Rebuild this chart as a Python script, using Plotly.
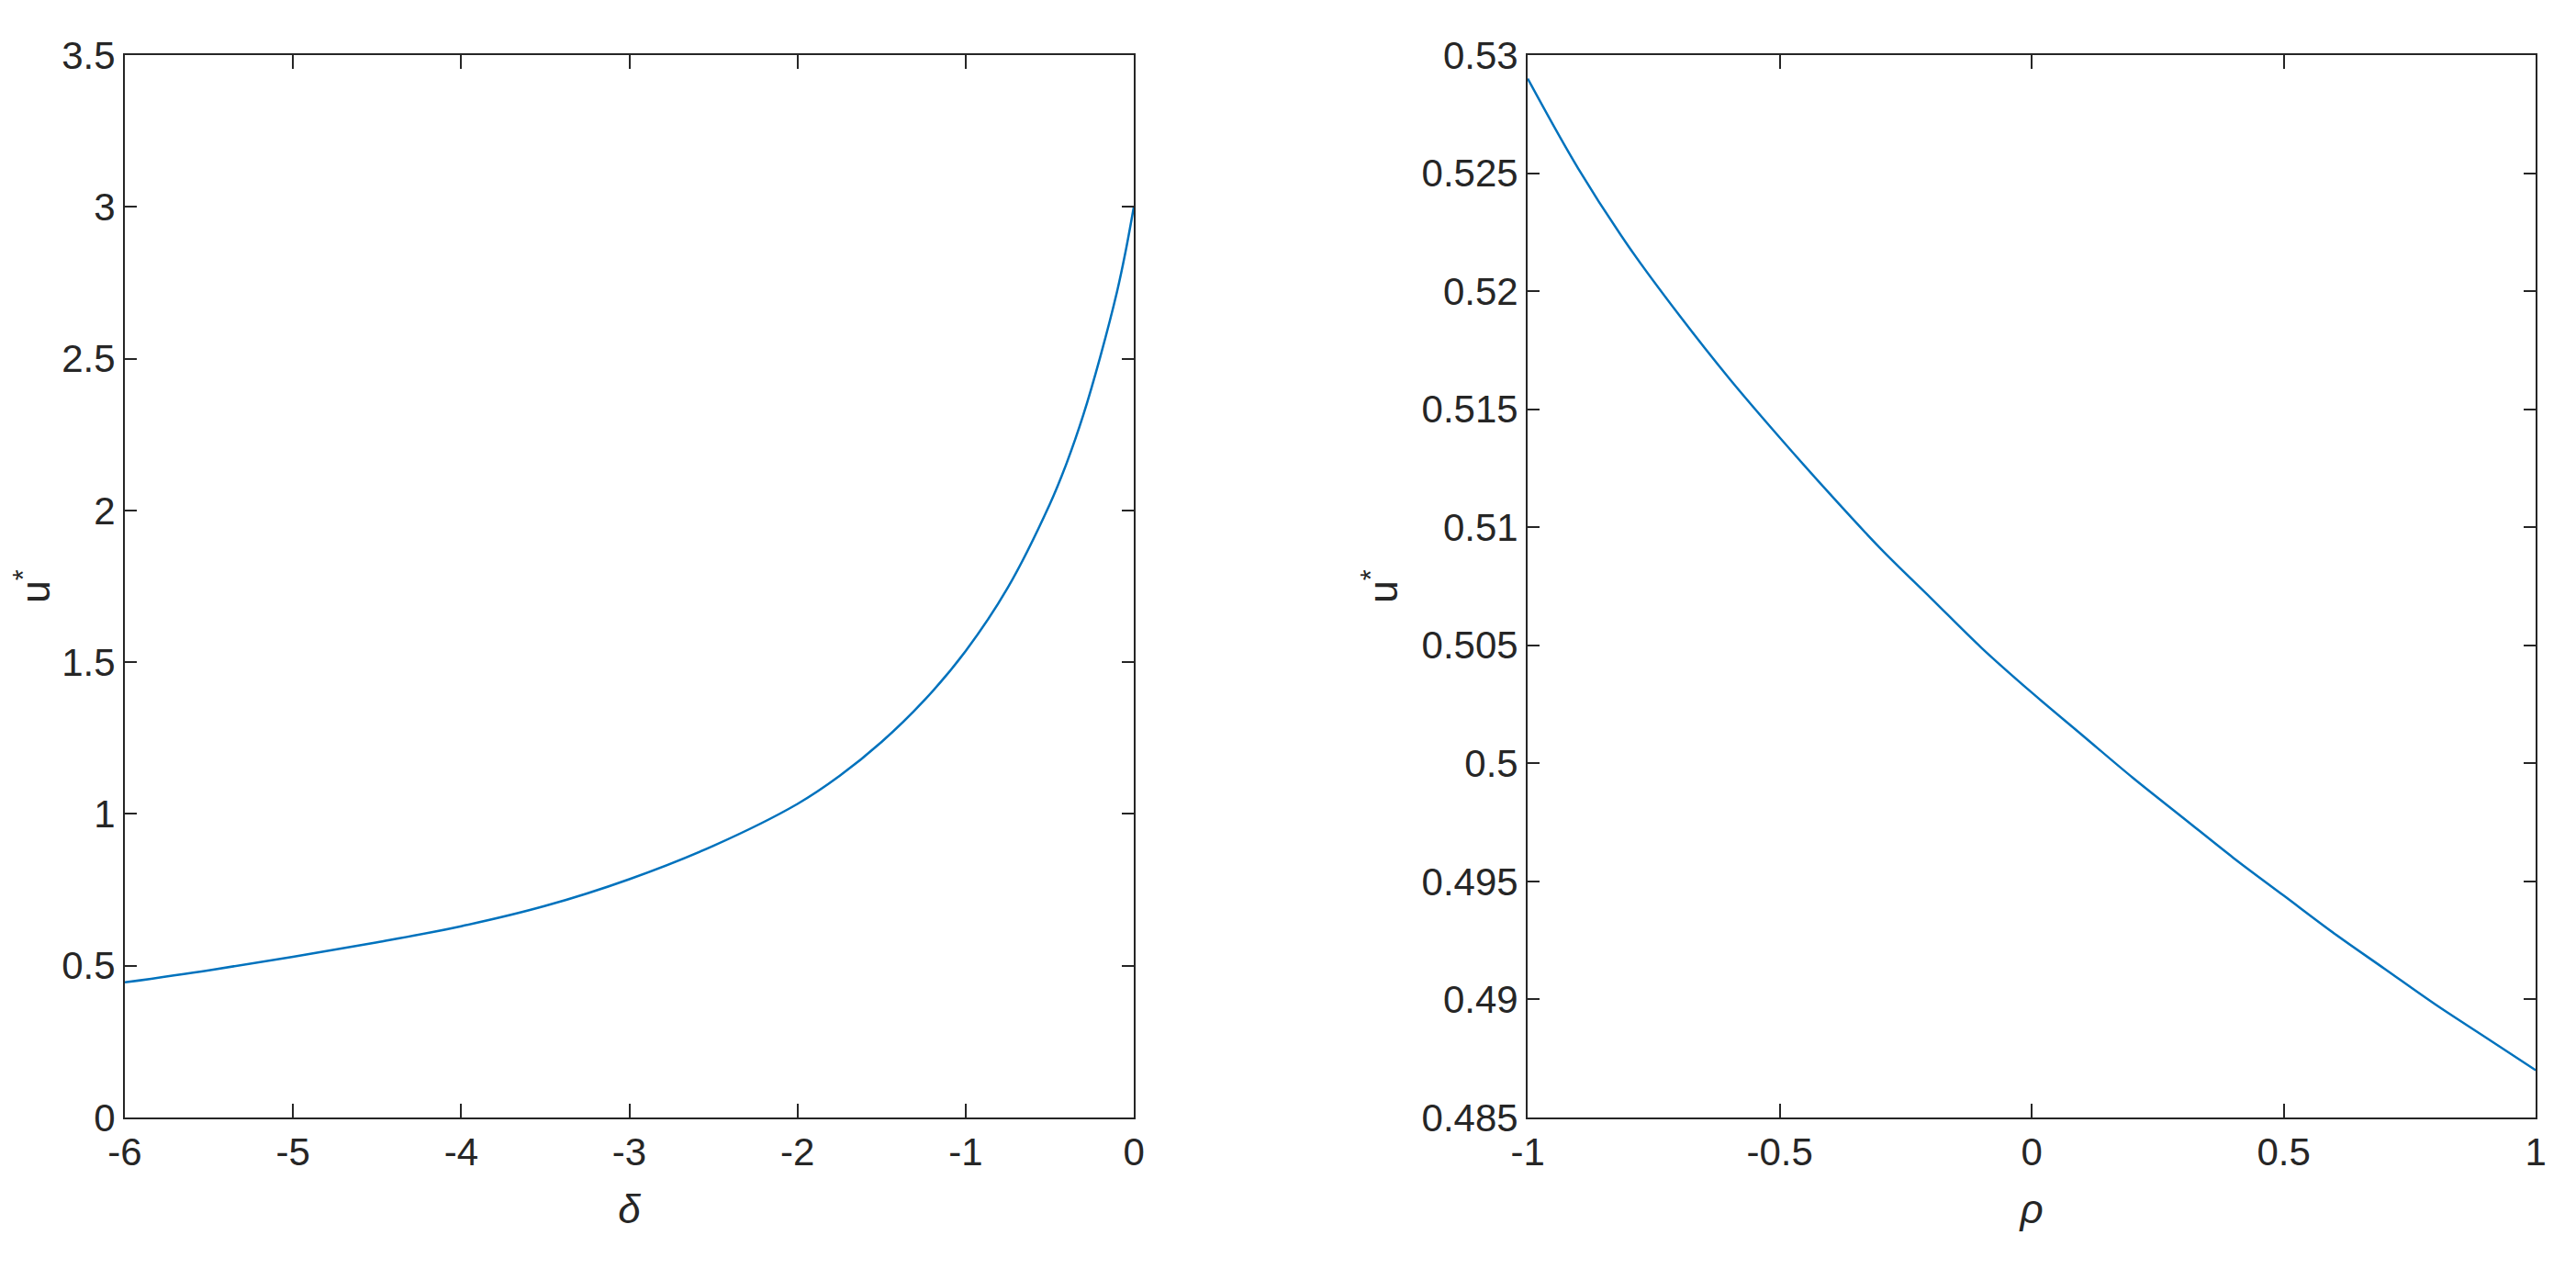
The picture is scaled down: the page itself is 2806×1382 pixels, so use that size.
import plotly.graph_objects as go
from plotly.subplots import make_subplots

# Left panel: u* against delta
DELTA = [-6, -5.5, -5, -4.5, -4, -3.5, -3, -2.5, -2, -1.75, -1.5, -1.25, -1,
         -0.75, -0.5, -0.4, -0.3, -0.2, -0.1, -0.05, 0]
U_DELTA = [0.445, 0.485, 0.529, 0.577, 0.630, 0.697, 0.785, 0.895, 1.033, 1.125,
           1.237, 1.372, 1.537, 1.745, 2.02, 2.155, 2.315, 2.505, 2.72, 2.85, 3.0]

# Right panel: u* against rho
RHO = [-1, -0.9, -0.8, -0.7, -0.6, -0.5, -0.4, -0.3, -0.2, -0.1, 0,
       0.1, 0.2, 0.3, 0.4, 0.5, 0.6, 0.7, 0.8, 0.9, 1]
U_RHO = [0.5290, 0.5252, 0.5219, 0.5190, 0.5163, 0.5138, 0.5114, 0.5091, 0.5070,
         0.5049, 0.5030, 0.5012, 0.4994, 0.4977, 0.4960, 0.4944, 0.4928, 0.4913,
         0.4898, 0.4884, 0.4870]

LEFT_XTICKS = [-6, -5, -4, -3, -2, -1, 0]
LEFT_XLABELS = ["-6", "-5", "-4", "-3", "-2", "-1", "0"]
LEFT_YTICKS = [0, 0.5, 1, 1.5, 2, 2.5, 3, 3.5]
LEFT_YLABELS = ["0", "0.5", "1", "1.5", "2", "2.5", "3", "3.5"]
RIGHT_XTICKS = [-1, -0.5, 0, 0.5, 1]
RIGHT_XLABELS = ["-1", "-0.5", "0", "0.5", "1"]
RIGHT_YTICKS = [0.485, 0.49, 0.495, 0.5, 0.505, 0.51, 0.515, 0.52, 0.525, 0.53]
RIGHT_YLABELS = ["0.485", "0.49", "0.495", "0.5", "0.505", "0.51", "0.515",
                 "0.52", "0.525", "0.53"]

LINE_COLOR = "#0072BD"
AX_COLOR = "#262626"
FONT = "Liberation Sans Narrow, Liberation Sans, Arial, sans-serif"

fig = make_subplots(rows=1, cols=2)
fig.add_trace(
    go.Scatter(x=DELTA, y=U_DELTA, mode="lines", line_shape="spline",
               line={"color": LINE_COLOR, "width": 2.5}),
    row=1, col=1,
)
fig.add_trace(
    go.Scatter(x=RHO, y=U_RHO, mode="lines", line_shape="spline",
               line={"color": LINE_COLOR, "width": 2.5}),
    row=1, col=2,
)

# MATLAB-style boxed axes: inward ticks on all four sides, no grid
axis_common = dict(
    automargin=False,
    showline=True, linewidth=2, linecolor=AX_COLOR, mirror="ticks",
    ticks="inside", tickwidth=2, tickcolor=AX_COLOR,
    showgrid=False, zeroline=False,
    tickfont={"family": FONT, "size": 42, "color": AX_COLOR},
    title_font={"family": FONT, "size": 44, "color": AX_COLOR},
)

fig.update_xaxes(**axis_common, ticklen=15)
fig.update_yaxes(**axis_common, ticklen=13)

fig.update_xaxes(row=1, col=1, domain=[0.0456, 0.4373], range=[-6, 0],
                 tickvals=LEFT_XTICKS, ticktext=LEFT_XLABELS,
                 title_text="<i>δ</i>", title_standoff=24)
fig.update_yaxes(row=1, col=1, domain=[0.1252, 0.9624], range=[0, 3.5],
                 tickvals=LEFT_YTICKS, ticktext=LEFT_YLABELS,
                 title_text="u<sup>*</sup>", title_standoff=16)
fig.update_xaxes(row=1, col=2, domain=[0.5902, 0.9815], range=[-1, 1],
                 tickvals=RIGHT_XTICKS, ticktext=RIGHT_XLABELS,
                 title_text="<i>ρ</i>", title_standoff=24)
fig.update_yaxes(row=1, col=2, domain=[0.1252, 0.9624], range=[0.485, 0.53],
                 tickvals=RIGHT_YTICKS, ticktext=RIGHT_YLABELS,
                 title_text="u<sup>*</sup>", title_standoff=12)

fig.update_layout(
    width=2806, height=1382,
    margin={"l": 0, "r": 0, "t": 0, "b": 0},
    paper_bgcolor="white", plot_bgcolor="white",
    showlegend=False,
    font={"family": FONT, "color": AX_COLOR},
)

fig.write_html("out.html")
